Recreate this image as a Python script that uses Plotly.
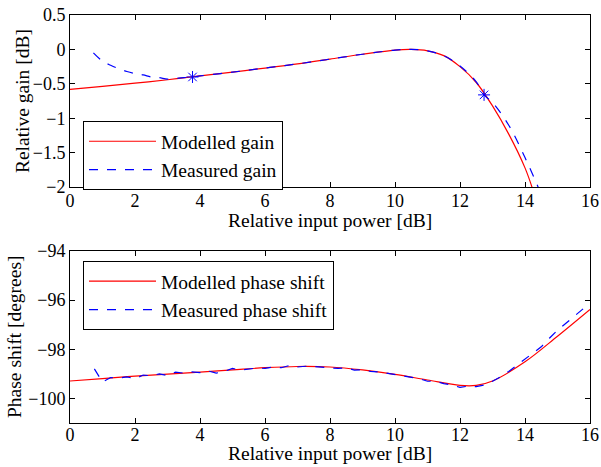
import plotly.graph_objects as go

# ---- data ----
gain_model_x = [0, 1, 2, 3, 4, 5, 6, 7, 8, 9, 10, 10.5, 11, 11.5, 12, 12.5, 13, 13.5, 14, 14.25]
gain_model_y = [-0.58, -0.535, -0.49, -0.44, -0.385, -0.33, -0.27, -0.21, -0.14, -0.07, -0.01, 0.0,
                -0.02, -0.09, -0.25, -0.48, -0.82, -1.23, -1.72, -2.05]

gain_meas_x = [0.72, 1.0, 1.25, 1.5, 1.75, 2.0, 2.25, 2.5, 2.75, 3.0, 3.25, 3.5, 3.77, 4, 5, 6, 7, 8, 9,
               10, 10.5, 11, 11.5, 12, 12.5, 12.74, 13, 13.5, 14, 14.45]
gain_meas_y = [-0.05, -0.17, -0.23, -0.28, -0.32, -0.35, -0.37, -0.40, -0.41, -0.43, -0.42, -0.41, -0.40,
               -0.385, -0.33, -0.27, -0.21, -0.14, -0.07, -0.01, 0.0, -0.02, -0.09, -0.24, -0.47,
               -0.66, -0.77, -1.10, -1.57, -2.05]

gain_star_x = [3.77, 12.74]
gain_star_y = [-0.40, -0.66]

phase_model_x = [0, 1, 2, 3, 4, 5, 6, 7, 8, 9, 10, 11, 12, 12.5, 13, 14, 15, 16]
phase_model_y = [-99.29, -99.19, -99.09, -99.01, -98.93, -98.84, -98.75, -98.70, -98.72, -98.84,
                 -99.02, -99.25, -99.47, -99.47, -99.29, -98.51, -97.47, -96.38]

phase_meas_x = [0.75, 1.0, 1.25, 1.5, 1.75, 2.0, 2.25, 2.5, 2.75, 3.0, 3.25, 3.5, 3.75, 4.0, 4.25, 4.5,
                4.75, 5.0, 5.25, 5.5, 5.75, 6.0, 6.25, 6.5, 6.75, 7.0, 7.25, 7.5, 7.75, 8.0, 8.25, 8.5,
                8.75, 9.0, 9.25, 9.5, 9.75, 10.0, 10.25, 10.5, 10.75, 11.0, 11.25, 11.5, 11.75, 12.0,
                12.25, 12.5, 12.75, 13.0, 13.25, 13.5, 13.75, 14.0, 14.25, 14.5, 14.75, 15.0, 15.25,
                15.5, 15.75, 16.0]
phase_meas_y = [-98.80, -99.33, -99.15, -99.18, -99.12, -99.20, -99.05, -99.08, -99.00, -99.07, -98.93,
                -98.97, -98.92, -98.95, -98.88, -98.97, -98.90, -98.78, -98.85, -98.80, -98.76, -98.78,
                -98.72, -98.75, -98.66, -98.72, -98.69, -98.70, -98.72, -98.73, -98.78, -98.75, -98.85,
                -98.83, -98.90, -98.92, -98.97, -99.05, -99.07, -99.12, -99.20, -99.30, -99.30, -99.40,
                -99.45, -99.55, -99.50, -99.52, -99.45, -99.30, -99.12, -98.90, -98.65, -98.38, -98.15,
                -97.90, -97.55, -97.22, -96.95, -96.68, -96.40, -96.12]

x_title = "Relative input power [dB]"
gain_title = "Relative gain [dB]"
phase_title = "Phase shift [degrees]"

FONT = "Liberation Serif, Times New Roman, serif"
TICK_SIZE = 18
LABEL_SIZE = 19.5

fig = go.Figure()
fig.add_trace(go.Scatter(x=gain_model_x, y=gain_model_y, mode="lines", line=dict(color="red", width=1.2, shape="spline"),
                         name="Modelled gain", xaxis="x", yaxis="y", legend="legend"))
fig.add_trace(go.Scatter(x=gain_meas_x, y=gain_meas_y, mode="lines", line=dict(color="blue", width=1.2, dash="dash", shape="spline"),
                         name="Measured gain", xaxis="x", yaxis="y", legend="legend"))
fig.add_trace(go.Scatter(x=gain_star_x, y=gain_star_y, mode="markers",
                         marker=dict(symbol="asterisk-open", size=10, color="blue", line=dict(color="blue", width=1)),
                         showlegend=False, xaxis="x", yaxis="y"))
fig.add_trace(go.Scatter(x=phase_model_x, y=phase_model_y, mode="lines", line=dict(color="red", width=1.2, shape="spline"),
                         name="Modelled phase shift", xaxis="x2", yaxis="y2", legend="legend2"))
fig.add_trace(go.Scatter(x=phase_meas_x, y=phase_meas_y, mode="lines", line=dict(color="blue", width=1.2, dash="dash"),
                         name="Measured phase shift", xaxis="x2", yaxis="y2", legend="legend2"))

axis_common = dict(showline=True, linecolor="black", linewidth=1, mirror="ticks", ticks="inside",
                   ticklen=5, tickcolor="black", showgrid=False, zeroline=False, automargin=False,
                   tickfont=dict(family=FONT, size=TICK_SIZE, color="black"))

title_font = dict(family=FONT, size=LABEL_SIZE, color="black")
legend_common = dict(xanchor="left", yanchor="top", bgcolor="white", bordercolor="black",
                     borderwidth=1, font=dict(family=FONT, size=LABEL_SIZE), itemwidth=67, tracegroupgap=0)

fig.update_layout(
    width=601, height=467,
    margin=dict(l=70, r=11, t=15, b=44),
    plot_bgcolor="white", paper_bgcolor="white",
    font=dict(family=FONT, size=LABEL_SIZE, color="black"),
    xaxis=dict(domain=[0, 1], anchor="y", range=[0, 16], dtick=2, ticklabelstandoff=-3, **axis_common),
    yaxis=dict(domain=[0.578, 1], anchor="x", range=[-2, 0.5], dtick=0.5, **axis_common),
    xaxis2=dict(domain=[0, 1], anchor="y2", range=[0, 16], dtick=2, ticklabelstandoff=-5, **axis_common),
    yaxis2=dict(domain=[0, 0.4216], anchor="x2", range=[-101, -94], tickvals=[-100, -98, -96, -94], **axis_common),
    legend=dict(x=0.025, y=0.74, **legend_common),
    legend2=dict(x=0.025, y=0.397, **legend_common),
)
fig.update_yaxes(tickformat="~g")

ann = dict(xref="paper", yref="paper", showarrow=False, font=title_font, borderpad=0)
fig.add_annotation(text=x_title, x=0.5, y=0.524, xanchor="center", yanchor="top", **ann)
fig.add_annotation(text=x_title, x=0.5, y=-0.1035, xanchor="center", yanchor="bottom", **ann)
fig.add_annotation(text=gain_title, x=-0.0923, y=0.789, xanchor="center", yanchor="middle", textangle=-90, **ann)
fig.add_annotation(text=phase_title, x=-0.1058, y=0.2108, xanchor="center", yanchor="middle", textangle=-90, **ann)

fig.write_html("out.html")
